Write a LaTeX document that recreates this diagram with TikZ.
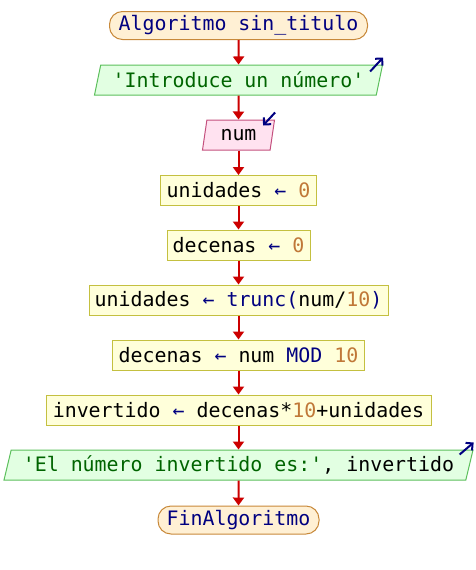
\documentclass[tikz,border=0pt]{standalone}
\usepackage{fontspec}
\setmonofont{DejaVu Sans Mono}
\usetikzlibrary{arrows.meta,shapes.geometric,calc}

% palette
\definecolor{kwblue}{HTML}{000080}
\definecolor{strgreen}{HTML}{006400}
\definecolor{numorange}{HTML}{C07838}
\definecolor{flowred}{HTML}{CC0000}
\definecolor{termfill}{HTML}{FFF0D4}
\definecolor{termline}{HTML}{C8893A}
\definecolor{procfill}{HTML}{FFFFDA}
\definecolor{procline}{HTML}{C4C040}
\definecolor{outfill}{HTML}{E2FFE2}
\definecolor{outline}{HTML}{5CC05C}
\definecolor{infill}{HTML}{FFE2F0}
\definecolor{inline}{HTML}{C4507E}

% syntax colouring
\newcommand{\kwd}[1]{\textcolor{kwblue}{#1}}
\newcommand{\strg}[1]{\textcolor{strgreen}{#1}}
\newcommand{\numb}[1]{\textcolor{numorange}{#1}}
\newcommand{\asg}{\textcolor{kwblue}{←}}

\begin{document}
\begin{tikzpicture}[x=1pt,y=-1pt,
  every node/.style={font=\fontsize{19.9}{22}\selectfont\ttfamily, inner sep=0pt, align=center},
  termbox/.style={rectangle, draw=termline, fill=termfill, rounded corners=13pt,
    line width=1pt, minimum height=28pt},
  procbox/.style={rectangle, draw=procline, fill=procfill, line width=1pt,
    minimum height=30pt},
  outbox/.style={trapezium, trapezium left angle=69, trapezium right angle=111,
    trapezium stretches body, draw=outline, fill=outfill, line width=1pt,
    minimum height=30pt},
  inbox/.style={trapezium, trapezium left angle=69, trapezium right angle=111,
    trapezium stretches body, draw=inline, fill=infill, line width=1pt,
    minimum height=30pt},
  flow/.style={draw=flowred, line width=2pt, -{Triangle[length=8pt,width=11pt]}},
  iomark/.style={draw=kwblue, line width=2pt, -{Straight Barb[length=5pt,width=10pt]}}
]
\useasboundingbox (0,0) rectangle (476,570);

% flowchart steps
\node[termbox, minimum width=258pt] (start) at (238.5,25.5) {\kwd{Algoritmo sin\_titulo}};
\node[outbox, minimum width=288pt] (out1) at (238.5,80) {\strg{'Introduce un número'}};
\node[inbox, minimum width=72pt] (in1) at (238.5,135) {num};
\node[procbox, minimum width=156pt] (p1) at (238.5,190.5) {unidades \asg{} \numb{0}};
\node[procbox, minimum width=143pt] (p2) at (238.5,245) {decenas \asg{} \numb{0}};
\node[procbox, minimum width=299pt] (p3) at (238.5,300) {unidades \asg{} \kwd{trunc(}num/\numb{10}\kwd{)}};
\node[procbox, minimum width=252pt] (p4) at (238.5,355) {decenas \asg{} num \kwd{MOD} \numb{10}};
\node[procbox, minimum width=385pt] (p5) at (238.5,410) {invertido \asg{} decenas*\numb{10}+unidades};
\node[outbox, minimum width=469pt] (out2) at (238.5,465) {\strg{'El número invertido es:'}, invertido};
\node[termbox, minimum width=161pt] (stop) at (238.5,520) {\kwd{FinAlgoritmo}};

% control flow
\draw[flow] (start) -- (out1);
\draw[flow] (out1) -- (in1);
\draw[flow] (in1) -- (p1);
\draw[flow] (p1) -- (p2);
\draw[flow] (p2) -- (p3);
\draw[flow] (p3) -- (p4);
\draw[flow] (p4) -- (p5);
\draw[flow] (p5) -- (out2);
\draw[flow] (out2) -- (stop);

% input / output markers
\coordinate (o1a) at ($(out1.top right corner)+(-13,7)$);
\coordinate (o1b) at ($(out1.top right corner)+(0,-7)$);
\draw[iomark] (o1a) -- (o1b);
\coordinate (i1a) at ($(in1.top right corner)+(0,-7)$);
\coordinate (i1b) at ($(in1.top right corner)+(-12,6)$);
\draw[iomark] (i1a) -- (i1b);
\coordinate (o2a) at ($(out2.top right corner)+(-14,5)$);
\coordinate (o2b) at ($(out2.top right corner)+(0,-7)$);
\draw[iomark] (o2a) -- (o2b);
\end{tikzpicture}
\end{document}
